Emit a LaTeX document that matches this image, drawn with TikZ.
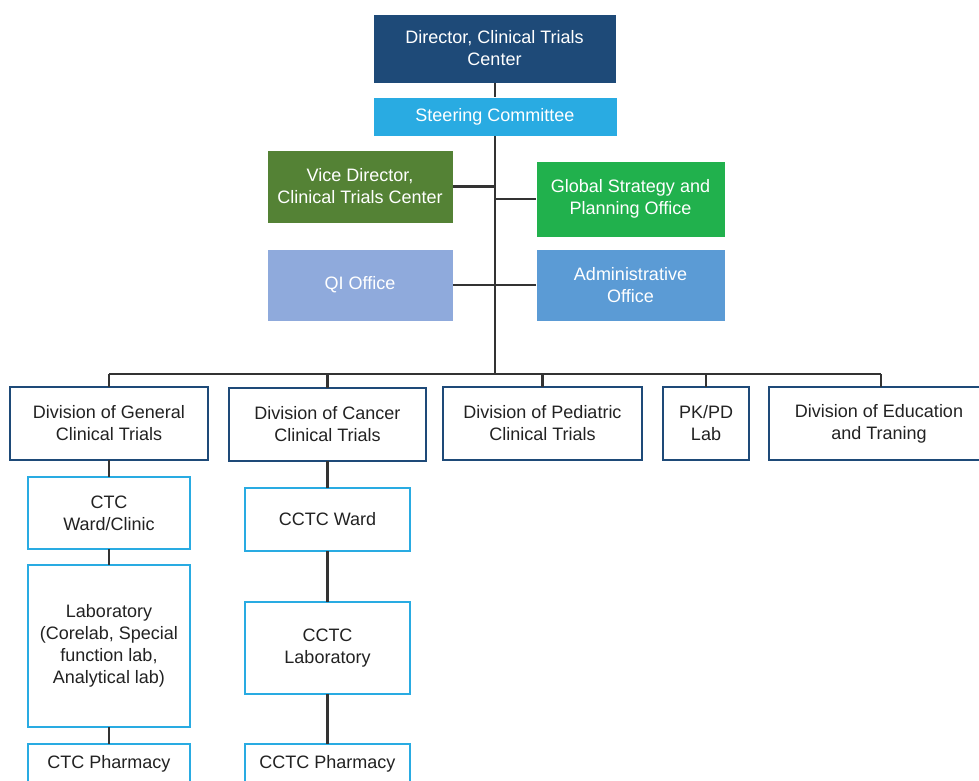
\documentclass[tikz,border=0pt]{standalone}
\usepackage{fontspec}
\setmainfont{Liberation Sans}
\definecolor{navy}{HTML}{1E4A78}
\definecolor{sky}{HTML}{29ABE2}
\definecolor{dgreen}{HTML}{548235}
\definecolor{bgreen}{HTML}{21B14D}
\definecolor{lav}{HTML}{8FAADC}
\definecolor{mblue}{HTML}{5B9BD5}
\definecolor{linec}{HTML}{333333}
\definecolor{txt}{HTML}{222222}
\begin{document}
\begin{tikzpicture}[x=1pt,y=-1pt,
  base/.style={rectangle,inner sep=0pt,outer sep=0pt,align=center,font=\fontsize{18}{22}\selectfont},
  filled/.style={base,text=white,draw=white,line width=0.5pt},
  divbox/.style={base,draw=navy,line width=2.2pt,fill=white,text=txt},
  unitbox/.style={base,draw=sky,line width=2.2pt,fill=white,text=txt},
  conn/.style={draw=linec,line width=2.2pt}]
\useasboundingbox (0,0) rectangle (979,781);
\clip (0,0) rectangle (979,781);
\fill[white] (0,0) rectangle (979,781);
% top boxes
\node[filled,fill=navy,minimum width=243pt,minimum height=69pt] (dir) at (494.5,48.5) {Director, Clinical Trials\\Center};
\node[filled,fill=sky,minimum width=244pt,minimum height=39pt] (steer) at (495,116.5) {Steering Committee};
\node[filled,fill=dgreen,minimum width=186pt,minimum height=73pt] (vice) at (360,186.5) {Vice Director,\\Clinical Trials Center};
\node[filled,fill=bgreen,minimum width=189pt,minimum height=76pt] (glob) at (630.5,199) {Global Strategy and\\Planning Office};
\node[filled,fill=lav,minimum width=186pt,minimum height=72pt] (qi) at (360,285) {QI Office};
\node[filled,fill=mblue,minimum width=189pt,minimum height=72pt] (adm) at (630.5,285) {Administrative\\Office};
% central trunk
\coordinate (bus) at (495,374);
\coordinate (jv) at (495,186.5);
\coordinate (jg) at (495,199);
\coordinate (jq) at (495,285);
\draw[conn] (dir.south -| bus) -- (steer.north -| bus);
\draw[conn] (steer.south -| bus) -- (bus);
\draw[conn] (vice.east) -- (jv);
\draw[conn] (glob.west) -- (jg);
\draw[conn] (qi.east) -- (jq);
\draw[conn] (adm.west) -- (jq);
% division boxes
\node[divbox,minimum width=198pt,minimum height=73pt] (gen) at (109,423.5) {Division of General\\Clinical Trials};
\node[divbox,minimum width=197pt,minimum height=73pt] (can) at (327.5,424.5) {Division of Cancer\\Clinical Trials};
\node[divbox,minimum width=199pt,minimum height=73pt] (ped) at (542.5,423.5) {Division of Pediatric\\Clinical Trials};
\node[divbox,minimum width=86pt,minimum height=73pt] (pk) at (706,423.5) {PK/PD\\Lab};
\node[divbox,minimum width=220pt,minimum height=73pt] (edu) at (879,423.5) {Division of Education\\and Traning};
\coordinate (bl) at (109,374);
\coordinate (br) at (881,374);
\draw[conn] (bl) -- (br);
\draw[conn] (bl) -- (gen.north);
\draw[conn] (can.north |- bus) -- (can.north);
\draw[conn] (ped.north |- bus) -- (ped.north);
\draw[conn] (pk.north |- bus) -- (pk.north);
\draw[conn] (br) -- (br |- edu.north);
% general column
\node[unitbox,minimum width=162pt,minimum height=72pt] (ctcw) at (109,513) {CTC\\Ward/Clinic};
\node[unitbox,minimum width=162pt,minimum height=162pt] (lab) at (109,646) {Laboratory\\(Corelab, Special\\function lab,\\Analytical lab)};
\node[unitbox,minimum width=162pt,minimum height=40pt,anchor=north] (ctcp) at (109,744) {};
\node[base,text=txt] (ctcpt) at (109,763.5) {CTC Pharmacy};
\draw[conn] (gen.south) -- (ctcw.north);
\draw[conn] (ctcw.south) -- (lab.north);
\draw[conn] (lab.south) -- (ctcp.north);
% cancer column
\node[unitbox,minimum width=165pt,minimum height=63pt] (cctw) at (327.5,519.5) {CCTC Ward};
\node[unitbox,minimum width=165pt,minimum height=92pt] (cctl) at (327.5,648) {CCTC\\Laboratory};
\node[unitbox,minimum width=165pt,minimum height=40pt,anchor=north] (cctp) at (327.5,744) {};
\node[base,text=txt] (cctpt) at (327.5,763.5) {CCTC Pharmacy};
\draw[conn] (can.south) -- (cctw.north);
\draw[conn] (cctw.south) -- (cctl.north);
\draw[conn] (cctl.south) -- (cctp.north);
\end{tikzpicture}
\end{document}
